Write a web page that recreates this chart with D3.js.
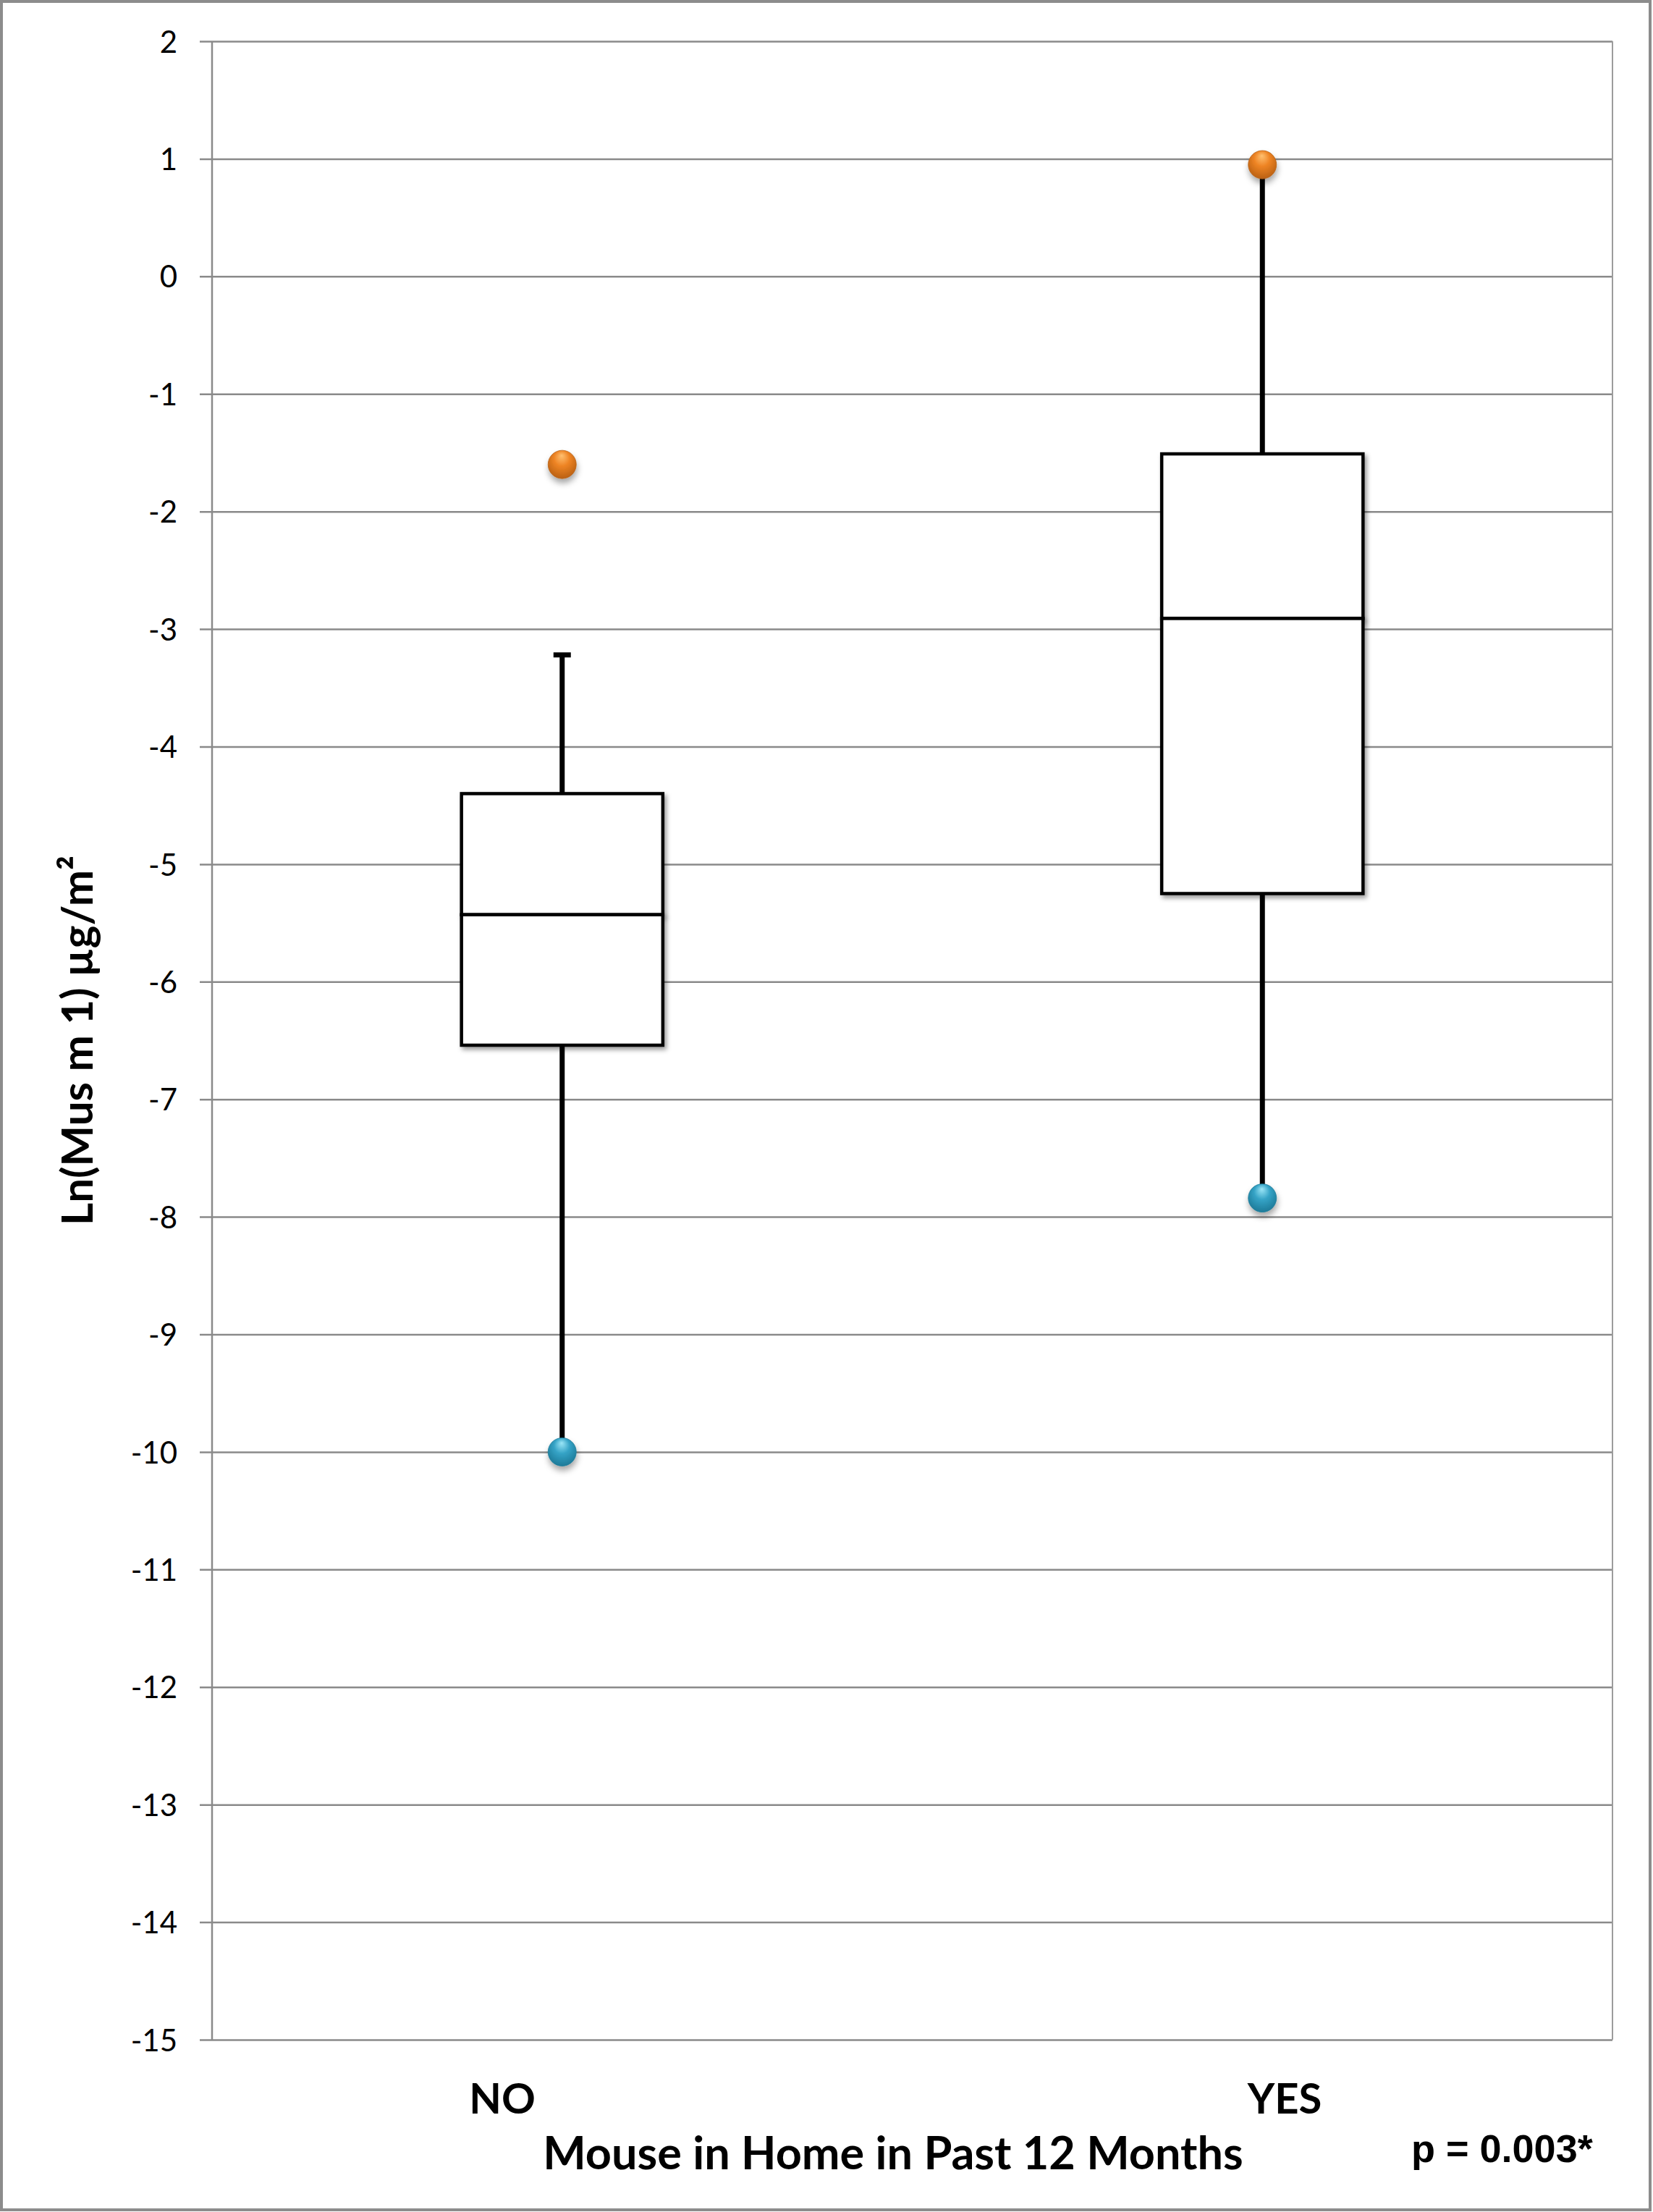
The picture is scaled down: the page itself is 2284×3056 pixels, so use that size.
<!DOCTYPE html>
<html>
<head>
<meta charset="utf-8">
<script src="https://cdn.jsdelivr.net/npm/d3@7/dist/d3.min.js"></script>
<style>
  html, body { margin: 0; padding: 0; background: #fff; }
  svg { display: block; }
</style>
</head>
<body>
<svg id="chart" width="2284" height="3056"></svg>
<script>
// ---- data ----
const categories   = ["NO", "YES"];
const q1Values     = [-6.54, -5.25];
const medianValues = [-5.43, -2.91];
const q3Values     = [-4.40, -1.51];
const whiskerLow   = [-10.0, -7.84];
const whiskerHigh  = [-3.22, 0.95];
const maxPoints    = [-1.6, 0.95];
const minPoints    = [-10.0, -7.84];
const yTicks       = [2, 1, 0, -1, -2, -3, -4, -5, -6, -7, -8, -9, -10, -11, -12, -13, -14, -15];
const yTitle       = "Ln(Mus m 1) µg/m²";
const xTitle       = "Mouse in Home in Past 12 Months";
const pText        = "p = 0.003*";

(function () {
// ---- layout ----
const W = 2284, H = 3056;
const pLeft = 293, pRight = 2228, pTop = 57, pBottom = 2818;
const svg = d3.select("#chart");

const x = d3.scaleBand().domain(categories).range([pLeft, pRight]);
const y = d3.scaleLinear().domain([-15, 2]).range([pBottom, pTop]);
const boxW = x.bandwidth() * 0.2875;
const capW = 24;

const rows = categories.map((c, i) => ({
  cat: c, q1: q1Values[i], med: medianValues[i], q3: q3Values[i],
  lo: whiskerLow[i], hi: whiskerHigh[i], max: maxPoints[i], min: minPoints[i]
}));

// defs
const defs = svg.append("defs");
const sh = defs.append("filter").attr("id", "boxShadow")
  .attr("x", "-20%").attr("y", "-20%").attr("width", "140%").attr("height", "140%");
sh.append("feDropShadow").attr("dx", 3).attr("dy", 4).attr("stdDeviation", 3)
  .attr("flood-color", "#000").attr("flood-opacity", 0.4);
const lsh = defs.append("filter").attr("id", "lineShadow")
  .attr("x", "-5%").attr("y", "-500%").attr("width", "110%").attr("height", "1100%");
lsh.append("feDropShadow").attr("dx", 2).attr("dy", 3).attr("stdDeviation", 2)
  .attr("flood-color", "#000").attr("flood-opacity", 0.3);
const dsh = defs.append("filter").attr("id", "dotShadow")
  .attr("x", "-60%").attr("y", "-60%").attr("width", "220%").attr("height", "220%");
dsh.append("feDropShadow").attr("dx", 1).attr("dy", 6).attr("stdDeviation", 4)
  .attr("flood-color", "#000").attr("flood-opacity", 0.35);

function sphere(id, hi, mid, dark) {
  const gr = defs.append("radialGradient").attr("id", id)
    .attr("cx", "50%").attr("cy", "40%").attr("r", "62%")
    .attr("fx", "48%").attr("fy", "18%");
  gr.append("stop").attr("offset", "0%").attr("stop-color", hi);
  gr.append("stop").attr("offset", "45%").attr("stop-color", mid);
  gr.append("stop").attr("offset", "100%").attr("stop-color", dark);
}
sphere("orangeBall", "#ffc070", "#ee8424", "#b85f12");
sphere("blueBall", "#9be6f7", "#35a3c6", "#1c7896");

// outer frame
svg.append("rect").attr("x", 2).attr("y", 2).attr("width", W - 6).attr("height", H - 5)
  .attr("fill", "#fff").attr("stroke", "#8c8c8c").attr("stroke-width", 4);

// y axis with gridlines
const yAxis = d3.axisLeft(y).tickValues(yTicks).tickFormat(d => String(d))
  .tickSizeInner(-(pRight - (pLeft - 17))).tickSizeOuter(0).tickPadding(31);
const ga = svg.append("g").attr("transform", `translate(${pLeft - 17},0)`).call(yAxis);
ga.select(".domain").remove();
ga.selectAll(".tick line").attr("stroke", "#8a8a8a").attr("stroke-width", 2.5);
ga.selectAll(".tick text")
  .attr("font-family", "Lato, 'Open Sans', sans-serif")
  .attr("font-size", 42).attr("fill", "#000").attr("dy", "0.36em");

// plot area left / right borders
svg.append("line").attr("x1", pLeft).attr("x2", pLeft).attr("y1", y(2)).attr("y2", y(-15))
  .attr("stroke", "#8a8a8a").attr("stroke-width", 2.5);
svg.append("line").attr("x1", pRight).attr("x2", pRight).attr("y1", y(2)).attr("y2", y(-15))
  .attr("stroke", "#9c9c9c").attr("stroke-width", 2);
// x axis line
svg.append("line").attr("x1", pLeft - 16).attr("x2", pRight + 15)
  .attr("y1", y(-15) + 2).attr("y2", y(-15) + 2)
  .attr("stroke", "#888").attr("stroke-width", 3)
  .attr("filter", "url(#lineShadow)");

// whiskers
const g = svg.append("g");
const cx = d => x(d.cat) + x.bandwidth() / 2;
g.selectAll(".whHi").data(rows).join("line").attr("class", "whHi")
  .attr("x1", cx).attr("x2", cx).attr("y1", d => y(d.q3)).attr("y2", d => y(d.hi))
  .attr("stroke", "#000").attr("stroke-width", 7);
g.selectAll(".whLo").data(rows).join("line").attr("class", "whLo")
  .attr("x1", cx).attr("x2", cx).attr("y1", d => y(d.q1)).attr("y2", d => y(d.lo))
  .attr("stroke", "#000").attr("stroke-width", 7);
g.selectAll(".capHi").data(rows).join("line").attr("class", "capHi")
  .attr("x1", d => cx(d) - capW / 2).attr("x2", d => cx(d) + capW / 2)
  .attr("y1", d => y(d.hi)).attr("y2", d => y(d.hi))
  .attr("stroke", "#000").attr("stroke-width", 7);
g.selectAll(".capLo").data(rows).join("line").attr("class", "capLo")
  .attr("x1", d => cx(d) - capW / 2).attr("x2", d => cx(d) + capW / 2)
  .attr("y1", d => y(d.lo)).attr("y2", d => y(d.lo))
  .attr("stroke", "#000").attr("stroke-width", 7);

// boxes (two halves)
g.selectAll(".boxUp").data(rows).join("rect").attr("class", "boxUp")
  .attr("x", d => cx(d) - boxW / 2).attr("width", boxW)
  .attr("y", d => y(d.q3)).attr("height", d => y(d.med) - y(d.q3))
  .attr("fill", "#fff").attr("stroke", "#000").attr("stroke-width", 4.5)
  .attr("filter", "url(#boxShadow)");
g.selectAll(".boxDown").data(rows).join("rect").attr("class", "boxDown")
  .attr("x", d => cx(d) - boxW / 2).attr("width", boxW)
  .attr("y", d => y(d.med)).attr("height", d => y(d.q1) - y(d.med))
  .attr("fill", "#fff").attr("stroke", "#000").attr("stroke-width", 4.5)
  .attr("filter", "url(#boxShadow)");

// max / min points
g.selectAll(".maxPt").data(rows).join("circle").attr("class", "maxPt")
  .attr("cx", cx).attr("cy", d => y(d.max)).attr("r", 19.5)
  .attr("fill", "url(#orangeBall)").attr("stroke", "#b8641a").attr("stroke-width", 0.8)
  .attr("filter", "url(#dotShadow)");
g.selectAll(".minPt").data(rows).join("circle").attr("class", "minPt")
  .attr("cx", cx).attr("cy", d => y(d.min)).attr("r", 19.5)
  .attr("fill", "url(#blueBall)").attr("stroke", "#1f7d9b").attr("stroke-width", 0.8)
  .attr("filter", "url(#dotShadow)");

// category labels
const labelCenters = { NO: 694, YES: 1775 };
svg.selectAll(".cat").data(categories).join("text").attr("class", "cat")
  .attr("x", d => labelCenters[d]).attr("y", 2920)
  .attr("text-anchor", "middle")
  .attr("font-family", "Lato, 'Open Sans', sans-serif").attr("font-weight", "bold")
  .attr("font-size", 58).attr("fill", "#000").text(d => d);

// axis titles
svg.append("text").attr("x", 1234).attr("y", 2997).attr("text-anchor", "middle")
  .attr("font-family", "Lato, 'Open Sans', sans-serif").attr("font-weight", "bold")
  .attr("font-size", 63).attr("fill", "#000").text(xTitle);
svg.append("text")
  .attr("transform", `translate(128,${(pTop + pBottom) / 2}) rotate(-90)`)
  .attr("text-anchor", "middle")
  .attr("font-family", "Lato, 'Open Sans', sans-serif").attr("font-weight", "bold")
  .attr("font-size", 60).attr("fill", "#000").text(yTitle);

// p-value
svg.append("text").attr("x", 1950).attr("y", 2987)
  .attr("font-family", "'Liberation Sans', Arial, sans-serif").attr("font-weight", "bold")
  .attr("font-size", 54).attr("fill", "#000").text(pText);
})();
</script>
</body>
</html>
